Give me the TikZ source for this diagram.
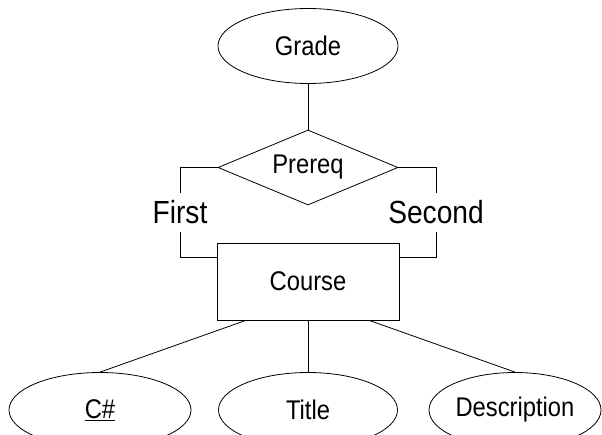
\documentclass[tikz,border=0pt]{standalone}
\usepackage{fontspec}
\setmainfont{Liberation Sans}[FakeStretch=0.88]
\usetikzlibrary{shapes.geometric, calc}

\begin{document}
\begin{tikzpicture}[
  x=1pt, y=-1pt,
  line width=0.8pt,
  every node/.style={font=\fontsize{27}{31}\selectfont},
  attr/.style={draw, ellipse, minimum width=180pt, minimum height=75pt,
               inner sep=0pt},
  entity/.style={draw, rectangle, minimum width=182pt, minimum height=77pt,
                 inner sep=0pt},
  rel/.style={draw, diamond, aspect=2.4, minimum width=180pt,
              minimum height=75pt, inner sep=0pt},
  role/.style={inner sep=0pt, minimum height=39pt,
               font=\fontsize{32}{36}\selectfont}
]
  \useasboundingbox (0,0) rectangle (602,435);
  \clip (0,0) rectangle (602,435);

  \node[attr]   (grade)  at (308, 46)    {Grade};
  \node[rel]    (prereq) at (308, 167.5) {Prereq};
  \node[entity] (course) at (308, 281.5) {Course};

  \node[role] (first)  at (180, 212.5) {First};
  \node[role] (second) at (436, 212.5) {Second};

  \node[attr, minimum width=182pt] (cnum)  at (100, 410) {\underline{C\#}};
  \node[attr, minimum width=179pt] (title) at (308, 410) {Title};
  \node[attr, minimum width=172pt] (descr) at (515, 410) {Description};

  \draw (grade) -- (prereq);

  % roles of the recursive relationship
  \draw (prereq.west) -| (first.north);
  \draw (first.south) |- ($(course.north west)+(0,15)$);
  \draw (prereq.east) -| (second.north);
  \draw (second.south) |- ($(course.north east)+(0,15)$);

  % attributes
  \draw ($(course.south west)!0.16!(course.south east)$) -- (cnum.north);
  \draw (course.south) -- (title.north);
  \draw ($(course.south west)!0.835!(course.south east)$) -- (descr.north);
\end{tikzpicture}
\end{document}
